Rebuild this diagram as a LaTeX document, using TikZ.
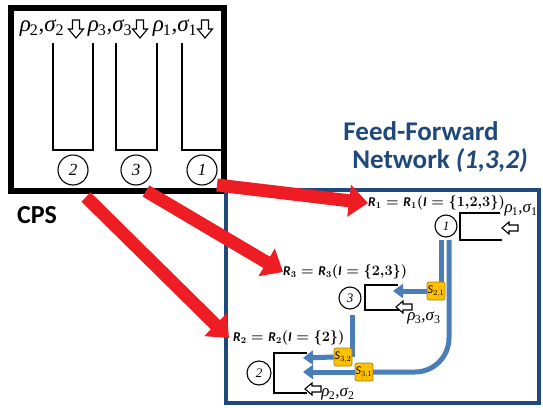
\documentclass[tikz,border=0pt]{standalone}
\usepackage{fontspec}
\newfontfamily\carl{Carlito}
\newfontfamily\tms{Liberation Serif}
\usetikzlibrary{arrows.meta}
\definecolor{netblue}{HTML}{1F497D}
\definecolor{pipeblue}{HTML}{4A7EBB}
\definecolor{sgold}{HTML}{FFC000}
\definecolor{sedge}{HTML}{9C7A14}
\definecolor{redarr}{HTML}{EE1D23}
\newcommand\bvar[1]{\mbox{\carl\bfseries\itshape #1}}
\newcommand\svar[2]{$\mbox{\carl\itshape S}_{#1,#2}$}
\newcommand\rs[1]{{\tms\itshape ρ}\kern-0.04em\textsubscript{#1},{\tms\itshape σ}\textsubscript{#1}}
\tikzset{
  cpsbox/.style={draw=black, line width=6pt},
  netbox/.style={draw=netblue, line width=4pt},
  bigcirc/.style={circle, draw, line width=1.1pt, minimum size=30pt, inner sep=0pt, font=\tms\fontsize{17}{17}\selectfont\itshape},
  smallcirc/.style={circle, draw, line width=1.1pt, minimum size=22pt, inner sep=0pt, font=\tms\fontsize{13}{13}\selectfont\itshape},
  ulines/.style={draw=black, line width=1.3pt},
  bracket/.style={draw=black, line width=1.2pt},
  biglabel/.style={inner sep=0pt, font=\tms\fontsize{23}{23}\selectfont},
  smalllabel/.style={inner sep=0pt, font=\tms\fontsize{17}{17}\selectfont},
  rlabel/.style={inner sep=0pt, anchor=west, font=\fontsize{13.5}{13.5}\selectfont\boldmath},
  titletext/.style={text=netblue, font=\carl\bfseries\fontsize{27}{30}\selectfont, inner sep=0pt},
  redarrow/.style={draw=redarr, line width=13pt, -{Triangle[width=31pt,length=19pt]}},
  pipe/.style={draw=pipeblue, line width=5pt},
  pipearrow/.style={draw=pipeblue, line width=5pt, -{Triangle[width=14pt,length=10pt]}},
  sbox/.style={draw=sedge, fill=sgold, line width=0.6pt, rounded corners=2pt, minimum size=18pt, inner sep=0pt, font=\fontsize{12}{12}\selectfont},
  downarr/.pic={\draw[line width=1.1pt, fill=white] (-3.5,-9) -- (3.5,-9) -- (3.5,0) -- (7.5,0) -- (0,9) -- (-7.5,0) -- (-3.5,0) -- cycle;},
  leftarr/.pic={\draw[line width=1.1pt, fill=white] (-8,0) -- (-1,-6) -- (-1,-3) -- (8,-3) -- (8,3) -- (-1,3) -- (-1,6) -- cycle;}
}
\begin{document}
\begin{tikzpicture}[x=1pt,y=-1pt]
\useasboundingbox (0,0) rectangle (543,407);
\fill[white] (0,0) rectangle (543,407);

% ---------- CPS box ----------
\draw[cpsbox] (11,8) rectangle (224,191);
\node[biglabel] (l2) at (42,28) {\rs{2}};
\node[biglabel] (l3) at (110,28) {\rs{3}};
\node[biglabel] (l1) at (175,28) {\rs{1}};
\pic at (76,29) {downarr};
\pic at (140,29) {downarr};
\pic at (205,29) {downarr};
\draw[ulines] (53,43) -- (53,150) -- (93,150) -- (93,43);
\draw[ulines] (116,43) -- (116,150) -- (157,150) -- (157,43);
\draw[ulines] (182,43) -- (182,150) -- (222,150) -- (222,43);
\node[bigcirc] (C2) at (73,170) {2};
\node[bigcirc] (C3) at (136,170) {3};
\node[bigcirc] (C1) at (202,170) {1};
\node[inner sep=0pt, font=\carl\bfseries\fontsize{26}{26}\selectfont] (cps) at (37,215) {CPS};

% ---------- Network ----------
\node[titletext] (t1) at (421,131) {Feed-Forward};
\node[titletext] (t2) at (440,161) {Network \textit{(1,3,2)}};
\draw[netbox] (226,190) rectangle (539,403);

\node[rlabel] (R1) at (368,203) {$\bvar{R}_1 = \bvar{R}_1(\bvar{I} = \{1{,}2{,}3\})$};
\node[rlabel] (R3) at (283,272) {$\bvar{R}_3 = \bvar{R}_3(\bvar{I} = \{2{,}3\})$};
\node[rlabel] (R2) at (233,338) {$\bvar{R}_2 = \bvar{R}_2(\bvar{I} = \{2\})$};

\node[smallcirc] (N1) at (446,226) {1};
\node[smallcirc] (N3) at (350,298) {3};
\node[smallcirc, minimum size=24pt] (N2) at (259,373) {2};

\draw[bracket] (500,213) -- (460,213) -- (460,240) -- (502,240);
\draw[bracket] (398,285) -- (365,285) -- (365,310) -- (400,310);
\draw[bracket] (307,353) -- (274,353) -- (274,393) -- (307,393);

\node[smalllabel] (m1) at (521,210) {\rs{1}};
\node[smalllabel] (m3) at (424,318) {\rs{3}};
\node[smalllabel] (m2) at (338,394) {\rs{2}};
\pic at (510,228) {leftarr};
\pic at (404,307) {leftarr};
\pic at (313,389) {leftarr};

% pipes
\coordinate (s21) at (436,291);
\coordinate (s32) at (343,357);
\coordinate (s31) at (364,372);
\coordinate (p1a) at (441,240);
\coordinate (p1b) at (449,240);
\coordinate (p3) at (352,315);
\draw[pipe] (p1a) -- (p1a |- s21);
\draw[pipe, rounded corners=34pt] (p1b) -- (p1b |- s31) -- (s31);
\draw[pipe] (p3) -- (p3 |- s32);
\node[sbox] (S21) at (s21) {\svar{2}{1}};
\node[sbox] (S32) at (s32) {\svar{3}{2}};
\node[sbox] (S31) at (s31) {\svar{3}{1}};
\coordinate (in3) at (393,291);
\coordinate (in2a) at (303,358);
\coordinate (in2b) at (303,372);
\draw[pipearrow] (S21.west) -- (in3);
\draw[pipearrow] (S32.west) -- (in2a);
\draw[pipearrow] (S31.west) -- (in2b);

% red arrows
\coordinate (a1) at (217,185);
\coordinate (a2) at (146,191);
\coordinate (a3) at (86,197);
\draw[redarrow] (a1) -- (R1.west);
\draw[redarrow] (a2) -- (R3.west);
\draw[redarrow] (a3) -- ([xshift=-4pt]R2.west);
\end{tikzpicture}
\end{document}
